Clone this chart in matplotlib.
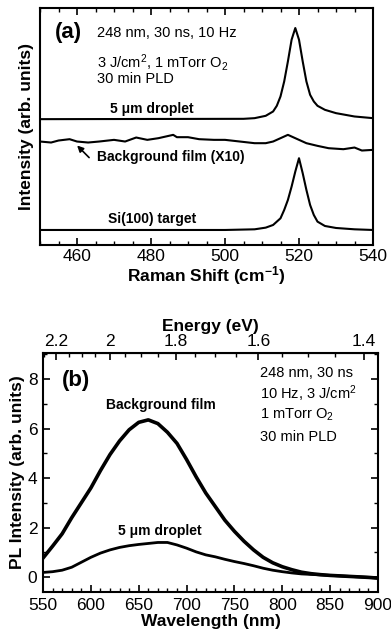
import numpy as np
import matplotlib
matplotlib.use("Agg")
import matplotlib.pyplot as plt
from matplotlib.ticker import MultipleLocator, FixedLocator

plt.rcParams['font.family'] = ['Liberation Sans', 'DejaVu Sans']
plt.rcParams['mathtext.fontset'] = 'custom'
plt.rcParams['mathtext.rm'] = 'Liberation Sans'
plt.rcParams['mathtext.bf'] = 'Liberation Sans:bold'
plt.rcParams['mathtext.default'] = 'regular'

# ---------------- Panel (a): Raman spectra (offset, arb. units) ----------------
drop_x = [450, 505, 508, 511, 513, 514, 515, 516, 517, 518, 519, 520, 521, 522, 523,
          524, 525, 527, 530, 535, 540]
drop_y = [37.7, 37.8, 38.0, 38.7, 40.0, 41.7, 44.5, 49.0, 55.0, 61.5, 65.0, 61.5, 55.0,
          49.0, 45.0, 43.0, 41.7, 40.5, 39.5, 38.5, 38.0]

bg_x = [450, 453, 455, 458, 460, 463, 466, 470, 473, 476, 479, 482, 484, 486, 487, 490,
        493, 497, 500, 504, 508, 511, 513, 515, 517, 519, 522, 525, 528, 532, 535, 537, 540]
bg_y = [31.0, 30.7, 31.3, 31.7, 31.0, 30.7, 31.0, 31.5, 31.0, 32.2, 31.5, 32.0, 32.5,
        33.0, 32.3, 32.3, 31.7, 31.5, 31.5, 31.0, 30.5, 30.5, 31.0, 32.0, 33.0, 32.0,
        30.5, 29.7, 29.0, 28.7, 29.2, 28.3, 28.5]

si_x = [450, 500, 508, 511, 513, 515, 516, 517, 518, 519, 520, 521, 522, 523, 524, 525,
        527, 530, 535, 540]
si_y = [4.5, 4.5, 4.7, 5.2, 6.0, 8.0, 10.5, 13.5, 17.5, 22.0, 26.0, 21.5, 16.5, 12.0,
        9.0, 7.0, 5.7, 5.1, 4.7, 4.5]

raman_ticks = [460, 480, 500, 520, 540]

# ---------------- Panel (b): PL spectra ----------------
wl = [550, 560, 570, 580, 590, 600, 610, 620, 630, 640, 650, 660, 670, 680, 690, 700,
      710, 720, 730, 740, 750, 760, 770, 780, 790, 800, 810, 820, 830, 840, 850, 860,
      870, 880, 890, 900]
pl_bg = [0.77, 1.25, 1.75, 2.4, 3.0, 3.6, 4.3, 4.95, 5.5, 5.95, 6.25, 6.35, 6.2, 5.85,
         5.4, 4.75, 4.05, 3.4, 2.85, 2.3, 1.85, 1.45, 1.1, 0.8, 0.58, 0.42, 0.3, 0.2,
         0.14, 0.1, 0.07, 0.05, 0.03, 0.01, -0.01, -0.04]
pl_drop = [0.19, 0.22, 0.28, 0.4, 0.6, 0.8, 0.97, 1.1, 1.2, 1.27, 1.32, 1.36, 1.4, 1.4,
           1.3, 1.17, 1.02, 0.9, 0.82, 0.72, 0.63, 0.55, 0.46, 0.36, 0.28, 0.22, 0.17,
           0.13, 0.11, 0.09, 0.07, 0.05, 0.03, 0.01, -0.01, -0.04]

energy_ticks = [2.2, 2.0, 1.8, 1.6, 1.4]
energy_labels = ["2.2", "2", "1.8", "1.6", "1.4"]

W, H = 391, 635
fig = plt.figure(figsize=(W / 100, H / 100), dpi=100)

def rect(l, r, t, b):
    return [l / W, 1 - b / H, (r - l) / W, (b - t) / H]

tick_fs = 12.5
label_fs = 12.5

# ----- panel a -----
ax1 = fig.add_axes(rect(40, 373, 8, 245))
for xs, ys in [(drop_x, drop_y), (bg_x, bg_y), (si_x, si_y)]:
    ax1.plot(xs, ys, color='black', lw=1.5)
ax1.set_xlim(450, 540)
ax1.set_ylim(0, 71)
ax1.set_xticks(raman_ticks)
ax1.xaxis.set_minor_locator(MultipleLocator(5))
ax1.set_yticks([])
ax1.tick_params(axis='x', which='both', direction='in', top=True, labelsize=tick_fs, pad=3)
ax1.tick_params(axis='x', which='major', length=5, width=1.2)
ax1.tick_params(axis='x', which='minor', length=3, width=1.0)
for s in ax1.spines.values():
    s.set_linewidth(1.5)
ax1.set_xlabel("Raman Shift (cm$^{-1}$)", fontsize=label_fs, fontweight='bold', labelpad=0)
ax1.set_ylabel("Intensity (arb. units)", fontsize=label_fs, fontweight='bold', labelpad=4)

ax1.text(0.045, 0.895, "(a)", transform=ax1.transAxes, fontsize=16, fontweight='bold', va='center')
ax1.text(0.171, 0.895, "248 nm, 30 ns, 10 Hz", transform=ax1.transAxes, fontsize=10.5, va='center')
ax1.text(0.171, 0.772, "3 J/cm$^2$, 1 mTorr O$_2$", transform=ax1.transAxes, fontsize=10.5, va='center')
ax1.text(0.171, 0.70, "30 min PLD", transform=ax1.transAxes, fontsize=10.5, va='center')
ax1.text(0.21, 0.574, "5 μm droplet", transform=ax1.transAxes, fontsize=10, fontweight='bold', va='center')
ax1.text(0.171, 0.371, "Background film (X10)", transform=ax1.transAxes, fontsize=10, fontweight='bold', va='center')
ax1.text(0.204, 0.11, "Si(100) target", transform=ax1.transAxes, fontsize=10, fontweight='bold', va='center')
ax1.annotate("", xy=(459.5, 30.4), xytext=(463.8, 25.6),
             arrowprops=dict(arrowstyle='-|>', color='black', lw=1.2, mutation_scale=9))

# ----- panel b -----
ax2 = fig.add_axes(rect(43, 378, 353, 592))
ax2.plot(wl, pl_bg, color='black', lw=2.6)
ax2.plot(wl, pl_drop, color='black', lw=2.0)
ax2.set_xlim(550, 900)
ax2.set_ylim(-0.6, 9.05)
ax2.xaxis.set_major_locator(MultipleLocator(50))
ax2.xaxis.set_minor_locator(MultipleLocator(10))
ax2.yaxis.set_major_locator(MultipleLocator(2))
ax2.yaxis.set_minor_locator(MultipleLocator(1))
ax2.tick_params(which='both', direction='in', right=True, labelsize=tick_fs, pad=4)
ax2.tick_params(which='major', length=5, width=1.2)
ax2.tick_params(which='minor', length=3, width=1.0)
for s in ax2.spines.values():
    s.set_linewidth(1.5)
ax2.set_xlabel("Wavelength (nm)", fontsize=label_fs, fontweight='bold', labelpad=1)
ax2.set_ylabel("PL Intensity (arb. units)", fontsize=label_fs, fontweight='bold', labelpad=2)

def nm2ev(x):
    x = np.asarray(x, dtype=float)
    with np.errstate(divide='ignore', invalid='ignore'):
        return 1239.84 / x

secax = ax2.secondary_xaxis('top', functions=(nm2ev, nm2ev))
secax.xaxis.set_major_locator(FixedLocator(energy_ticks))
secax.set_xticklabels(energy_labels)
secax.xaxis.set_minor_locator(MultipleLocator(0.05))
secax.tick_params(which='both', direction='in', labelsize=tick_fs, pad=3)
secax.tick_params(which='major', length=5, width=1.2)
secax.tick_params(which='minor', length=3, width=1.0)
secax.set_xlabel("Energy (eV)", fontsize=label_fs, fontweight='bold', labelpad=2)

ax2.text(0.057, 0.883, "(b)", transform=ax2.transAxes, fontsize=16, fontweight='bold', va='center')
for yy, t in zip([0.916, 0.828, 0.741, 0.649],
                 ["248 nm, 30 ns", "10 Hz, 3 J/cm$^2$", "1 mTorr O$_2$", "30 min PLD"]):
    ax2.text(0.648, yy, t, transform=ax2.transAxes, fontsize=10.5, va='center')
ax2.text(0.352, 0.782, "Background film", transform=ax2.transAxes, fontsize=10, fontweight='bold',
         ha='center', va='center')
ax2.text(0.349, 0.255, "5 μm droplet", transform=ax2.transAxes, fontsize=10, fontweight='bold',
         ha='center', va='center')

fig.savefig("out.png", dpi=100)
